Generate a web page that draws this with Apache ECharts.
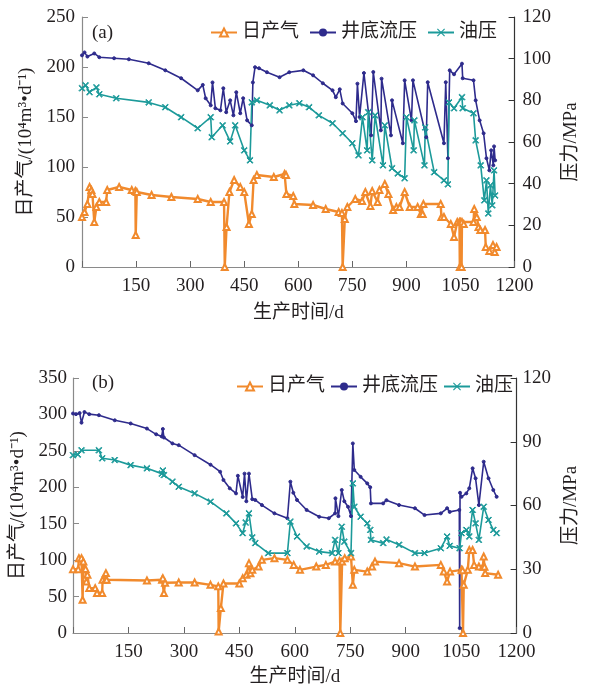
<!DOCTYPE html>
<html><head><meta charset="utf-8">
<script src="https://cdn.jsdelivr.net/npm/echarts@6/dist/echarts.min.js"></script>
<style>html,body{margin:0;padding:0;background:#fff;}#c{width:589px;height:690px;}</style>
</head><body><div id="c"></div>
<script>
// ---------- data ----------
const seriesNames = ['日产气', '井底流压', '油压'];
const xTicks = [0, 150, 300, 450, 600, 750, 900, 1050, 1200];
const leftTicksA = [0, 50, 100, 150, 200, 250];
const rightTicksA = [0, 20, 40, 60, 80, 100, 120];
const leftTicksB = [0, 50, 100, 150, 200, 250, 300, 350];
const rightTicksB = [0, 30, 60, 90, 120];

// panel (a): daily gas (10^4 m3/d)
const gasA = [[0,50],[7,55],[15,63],[21,80],[26,77],[29,73],[34,45],[40,60],[48,65],[67,65],[70,77],[103,80],[138,77],[148,76],[149,32],[152,75],[193,72],[248,70],[321,68],[357,65],[394,65],[396,0],[401,40],[409,75],[422,87],[439,80],[450,75],[463,43],[471,53],[476,87],[485,92],[532,90],[562,93],[566,92],[567,73],[586,71],[589,63],[641,62],[676,58],[712,55],[721,54],[723,0],[729,48],[736,60],[758,68],[777,66],[786,75],[800,61],[805,76],[820,65],[825,77],[840,83],[850,73],[863,57],[872,60],[881,60],[895,75],[909,60],[931,60],[940,53],[945,53],[947,63],[995,63],[997,50],[1004,50],[1023,43],[1032,30],[1041,45],[1047,45],[1048,0],[1050,45],[1053,0],[1054,45],[1059,43],[1086,45],[1088,58],[1095,50],[1100,40],[1105,37],[1118,37],[1120,20],[1130,16],[1140,22],[1145,15],[1150,20]];
// panel (a): bottom-hole flowing pressure (MPa)
const bhpA = [[0,101.6],[7,103],[15,101],[34,102.5],[48,100.7],[89,100.2],[130,99.7],[185,97.8],[231,94.4],[275,90.6],[321,84.8],[335,87.4],[343,81],[357,77.6],[362,88.6],[370,76.2],[384,75.2],[392,85.8],[400,74.3],[411,80],[420,72.8],[428,83.9],[439,73.8],[447,81],[458,70.4],[471,68],[474,88.6],[480,95.9],[491,95.4],[513,93.5],[548,91.1],[575,93.5],[614,94.4],[641,92],[668,88.2],[695,84.8],[704,81.5],[715,85.3],[723,78.5],[750,73.8],[760,70],[764,88],[770,72],[782,93.1],[802,63.2],[808,93.6],[829,65.6],[831,90.4],[857,63.2],[860,80],[890,59.4],[895,89.6],[914,70.4],[918,89.6],[955,62.3],[959,88.7],[1004,59.4],[1009,88.7],[1015,52.2],[1020,94.4],[1032,92.5],[1054,97.6],[1056,90.6],[1086,89.6],[1092,80],[1103,70.4],[1114,64.2],[1122,52.2],[1130,46.4],[1135,56],[1141,48.8],[1143,57.9],[1146,51.2]];
// panel (a): tubing pressure (MPa)
const tubA = [[0,85.8],[10,87.2],[21,83.9],[40,86.2],[48,82.9],[95,81],[185,79],[231,76.7],[275,71.9],[321,66.6],[357,71.9],[360,62.3],[390,68],[411,60.3],[425,68],[450,56],[466,51.2],[471,79],[485,80],[521,77.6],[548,75.2],[575,77.6],[603,78.6],[630,76.7],[657,72.8],[695,69],[723,64.2],[750,59.4],[767,53.6],[778,71.9],[791,56],[794,74.3],[805,51.2],[813,72.8],[835,48.8],[840,68],[860,47.4],[876,44.9],[895,42.6],[900,71.9],[920,56],[922,70.4],[950,48.8],[952,67],[977,45.5],[1004,41.6],[1015,39.7],[1018,79],[1032,76.2],[1054,81.5],[1056,76.2],[1086,73.8],[1092,60.8],[1106,48.8],[1116,32],[1122,41.6],[1127,25.7],[1133,39.2],[1138,29.6],[1143,46.4],[1146,34.3]];

// panel (b)
const gasB = [[0,87.6],[14,87.6],[16,102.7],[23,102.7],[26,45.6],[28,98],[34,88],[36,70.7],[39,80],[44,61.6],[60,61.6],[65,54.8],[79,54.8],[80,73],[88,73],[89,82.2],[91,73],[200,72],[241,73],[243,75.3],[246,54.8],[249,69],[286,69.3],[329,69.3],[372,66.1],[393,64],[394,2],[400,34.2],[407,68],[450,68],[459,75.3],[469,80],[476,95.9],[480,82],[485,86.7],[502,91.2],[511,100.4],[545,102.7],[580,100.4],[597,93.5],[614,86.7],[658,91.2],[684,93.5],[709,98],[721,99],[723,0],[728,98],[735,102.7],[752,104.9],[757,66.1],[761,86.7],[796,84.3],[809,91.2],[817,98],[882,95.9],[925,91.2],[995,93.5],[1003,84.3],[1012,70.7],[1020,84.3],[1051,86.7],[1054,86],[1055,0],[1057,66.1],[1068,86.7],[1072,114],[1081,114],[1085,93.5],[1098,91.2],[1109,91],[1111,105],[1113,91],[1115,82.2],[1150,80]];
const bhpB = [[0,103.3],[8,103],[18,103.5],[23,99],[31,104],[44,103],[70,102.5],[113,100.1],[156,98.6],[200,96.2],[225,93.5],[240,92.5],[243,96],[246,92],[269,89.2],[286,88.4],[329,83.7],[372,79.2],[398,75.9],[407,72],[424,68.1],[441,65.7],[446,74],[459,64],[464,75],[469,62],[476,75],[485,63],[493,62.6],[511,60.2],[545,56.3],[580,54],[588,71.2],[596,66],[606,62.6],[632,57.9],[666,54.7],[692,54],[709,56.3],[710,63.4],[718,55],[727,67.3],[734,62],[744,59.4],[752,55],[757,89.2],[761,76.7],[778,73.5],[796,70.4],[804,68.6],[806,61],[839,61],[848,62.5],[882,60.2],[925,58.7],[951,55.5],[995,56.3],[1012,58.7],[1019,57],[1045,57.9],[1046,2.3],[1047,66],[1051,64.1],[1064,65.7],[1072,68.1],[1081,77.5],[1089,72.8],[1098,60.2],[1111,80.6],[1124,72.8],[1137,67.3],[1146,64.1]];
const tubB = [[0,83.7],[13,84],[23,86],[70,86],[79,82.2],[113,81.4],[156,79],[200,77.5],[240,75],[243,76.5],[246,74.3],[269,71.2],[286,68.8],[329,65.7],[372,61.8],[415,56.3],[441,51.6],[459,47],[467,52],[476,56.3],[485,45],[493,42.3],[528,37.6],[580,37.6],[588,52.4],[606,45.4],[632,40.7],[666,38.3],[701,37.6],[709,43.8],[718,37.6],[727,50],[734,43],[752,37.6],[757,70.4],[761,59.4],[778,54.7],[796,51.6],[804,48.5],[806,43.8],[839,42.3],[848,44],[882,41.5],[925,37.6],[951,37.6],[995,39.9],[1012,45.4],[1019,41],[1046,39.9],[1051,47],[1064,48.5],[1072,45.4],[1081,57.9],[1089,51.6],[1098,43.8],[1111,59.4],[1124,53.2],[1137,48.5],[1146,47]];

// ---------- styles ----------
const C_GAS = '#F18A2D', C_BHP = '#2E2B8C', C_TUB = '#1C9A9A';
const XSYM = 'path://M0,1L1,0L5,4L9,0L10,1L6,5L10,9L9,10L5,6L1,10L0,9L4,5Z';
const NUM_FONT = '"Liberation Serif","Noto Sans CJK SC",serif';
const TXT = '#231f20';

function xAxis(gi, gap) {
  return {
    type: 'value', gridIndex: gi, min: xTicks[0], max: xTicks[xTicks.length - 1], interval: xTicks[1] - xTicks[0],
    name: '生产时间/d', nameLocation: 'middle', nameGap: gap,
    nameTextStyle: { fontFamily: NUM_FONT, fontSize: 19, color: TXT },
    axisLine: { lineStyle: { color: '#8a8a8a', width: 1.2 } },
    axisTick: { inside: true, length: 6, lineStyle: { color: '#666' } },
    axisLabel: { fontFamily: NUM_FONT, fontSize: 19, color: TXT, margin: 10, formatter: v => v === 0 ? '' : v },
    splitLine: { show: false }
  };
}
function yAxis(gi, ticks, pos, name, gap, color, margin) {
  return {
    type: 'value', gridIndex: gi, position: pos, min: ticks[0], max: ticks[ticks.length - 1], interval: ticks[1] - ticks[0],
    name: name, nameLocation: 'middle', nameGap: gap, nameRotate: 90,
    nameTextStyle: { fontFamily: NUM_FONT, fontSize: 19, color: TXT },
    axisLine: { show: true, lineStyle: { color: color, width: 1.2 } },
    axisTick: { show: true, inside: true, length: 6, lineStyle: { color: color } },
    axisLabel: { fontFamily: NUM_FONT, fontSize: 19, color: TXT, margin: margin },
    splitLine: { show: false }
  };
}
function line(name, data, xi, yi, color, sym, size, lw) {
  return {
    type: 'line', name: name, data: data, xAxisIndex: xi, yAxisIndex: yi,
    symbol: sym, symbolSize: size, showSymbol: true,
    lineStyle: { color: color, width: lw },
    itemStyle: { color: color, borderColor: color },
    animation: false
  };
}

const chart = echarts.init(document.getElementById('c'), null, { renderer: 'canvas' });
chart.setOption({
  backgroundColor: '#fff',
  animation: false,
  grid: [
    { left: 82, right: 67, top: 17, height: 250 },
    { left: 73, right: 52, top: 378, height: 255 }
  ],
  xAxis: [xAxis(0, 37), xAxis(1, 35)],
  yAxis: [
    yAxis(0, leftTicksA, 'left', '日产气/(10⁴m³•d⁻¹)', 44, '#8a8a8a', 7),
    yAxis(0, rightTicksA, 'right', '压力/MPa', 42, '#333', 8),
    yAxis(1, leftTicksB, 'left', '日产气/(10⁴m³•d⁻¹)', 42, '#8a8a8a', 6),
    yAxis(1, rightTicksB, 'right', '压力/MPa', 38, '#333', 6)
  ],
  legend: [
    { data: seriesNames, right: 92, top: 23, padding: 0, itemGap: 10, itemWidth: 26, itemHeight: 10,
      textStyle: { fontFamily: NUM_FONT, fontSize: 19, color: TXT } },
    { data: seriesNames, right: 76, top: 377, padding: 0, itemGap: 5, itemWidth: 26, itemHeight: 10,
      textStyle: { fontFamily: NUM_FONT, fontSize: 19, color: TXT } }
  ],
  graphic: [
    { type: 'text', left: 92, top: 24, style: { text: '(a)', font: '19px "Liberation Serif"', fill: TXT } },
    { type: 'text', left: 92, top: 374, style: { text: '(b)', font: '19px "Liberation Serif"', fill: TXT } }
  ],
  series: [
    line(seriesNames[0], gasA, 0, 0, C_GAS, 'emptyTriangle', 6, 2.4),
    line(seriesNames[1], bhpA, 0, 1, C_BHP, 'circle', 3, 1.6),
    line(seriesNames[2], tubA, 0, 1, C_TUB, XSYM, 6, 1.6),
    line(seriesNames[0], gasB, 1, 2, C_GAS, 'emptyTriangle', 6, 2.4),
    line(seriesNames[1], bhpB, 1, 3, C_BHP, 'circle', 3, 1.6),
    line(seriesNames[2], tubB, 1, 3, C_TUB, XSYM, 6, 1.6)
  ]
});
</script></body></html>
